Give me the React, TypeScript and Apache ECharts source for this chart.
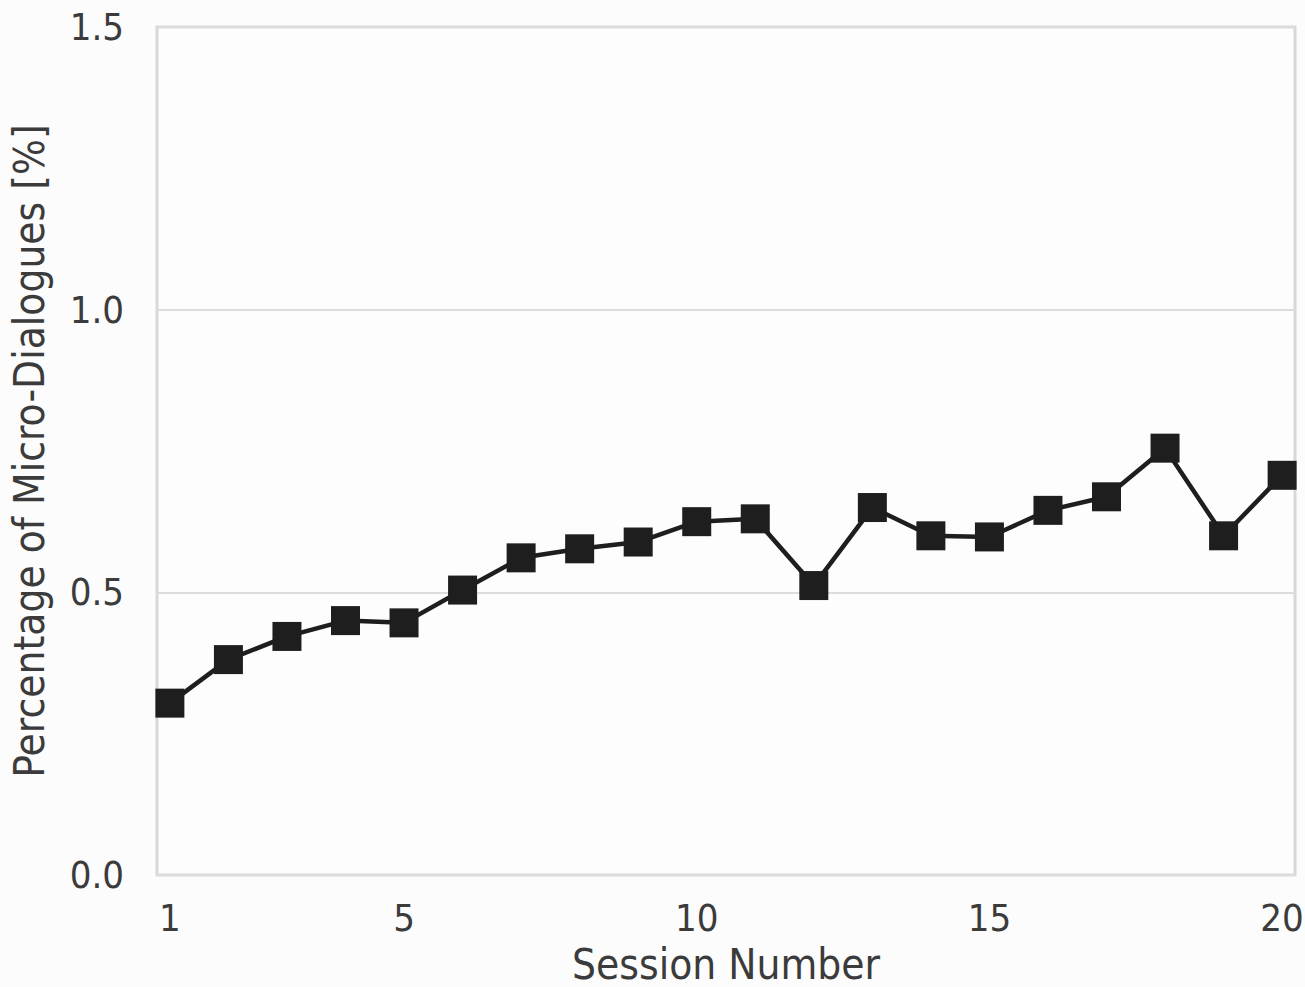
import React, { useEffect, useRef } from "react";
import * as echarts from "echarts";

const sessions = [1, 2, 3, 4, 5, 6, 7, 8, 9, 10, 11, 12, 13, 14, 15, 16, 17, 18, 19, 20];
const percentages = [
  0.304, 0.381, 0.422, 0.45, 0.446, 0.504, 0.561, 0.577, 0.589, 0.625,
  0.63, 0.512, 0.65, 0.6, 0.598, 0.645, 0.669, 0.755, 0.6, 0.707,
];
const xTickValues = [1, 5, 10, 15, 20];
const yTickValues = [0, 0.5, 1.0, 1.5];

const FONT = "'DejaVu Sans Condensed', 'DejaVu Sans', sans-serif";

export default function App() {
  const ref = useRef<HTMLDivElement>(null);
  useEffect(() => {
    if (!ref.current) return;
    const chart = echarts.init(ref.current, null, { renderer: "svg" });
    chart.setOption({
      animation: false,
      backgroundColor: "#fcfcfc",
      grid: {
        left: 157,
        right: 10,
        top: 27,
        bottom: 112,
        outerBoundsMode: "none",
        containLabel: false,
        show: true,
        backgroundColor: "#fdfdfd",
        borderColor: "#d8d8d8",
        borderWidth: 3,
      },
      xAxis: {
        type: "value",
        min: 0.78,
        max: 20.22,
        name: "Session Number",
        nameLocation: "middle",
        nameGap: 68,
        nameTextStyle: { fontFamily: FONT, fontSize: 42, color: "#3b3b3b" },
        axisLine: { show: false },
        axisTick: { show: false },
        splitLine: { show: false },
        axisLabel: {
          customValues: xTickValues,
          fontFamily: FONT,
          fontSize: 38,
          color: "#3b3b3b",
          margin: 24,
          formatter: (v: number) => String(Math.round(v)),
        },
      },
      yAxis: {
        type: "value",
        min: 0,
        max: 1.5,
        interval: 0.5,
        name: "Percentage of Micro-Dialogues [%]",
        nameLocation: "middle",
        nameGap: 107,
        nameTextStyle: { fontFamily: FONT, fontSize: 42, color: "#3b3b3b" },
        axisLine: { show: false },
        axisTick: { show: false },
        splitLine: { show: true, lineStyle: { color: "#dcdcdc", width: 2 } },
        axisLabel: {
          fontFamily: FONT,
          fontSize: 38,
          color: "#3b3b3b",
          margin: 33,
          formatter: (v: number) => (yTickValues.includes(v) ? v.toFixed(1) : ""),
        },
      },
      series: [
        {
          type: "line",
          data: sessions.map((s, i) => [s, percentages[i]]),
          symbol: "rect",
          symbolSize: 29,
          showAllSymbol: true,
          clip: true,
          lineStyle: { color: "#1e1e1e", width: 4.5 },
          itemStyle: { color: "#1e1e1e" },
        },
      ],
    });
    return () => chart.dispose();
  }, []);
  return (
    <div
      ref={ref}
      style={{ position: "fixed", left: 0, top: 0, width: 1305, height: 987 }}
    />
  );
}
